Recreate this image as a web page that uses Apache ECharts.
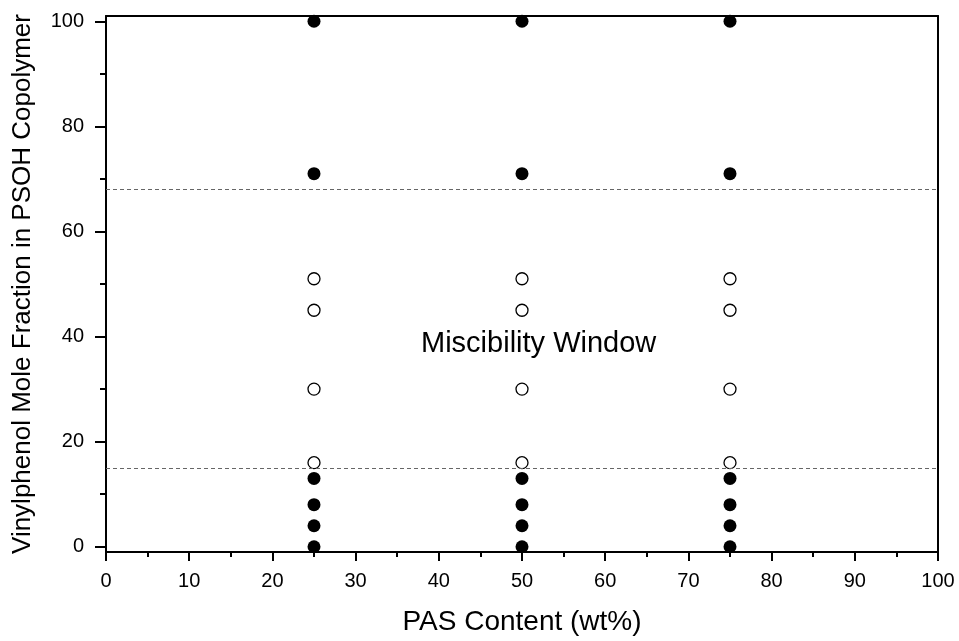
<!DOCTYPE html>
<html>
<head>
<meta charset="utf-8">
<script src="https://cdn.jsdelivr.net/npm/echarts@6/dist/echarts.min.js"></script>
<style>
  html, body { margin: 0; padding: 0; background: #fff; }
  #main { width: 959px; height: 641px; }
</style>
</head>
<body>
<div id="main"></div>
<script>
// PAS content (wt%) of each blend column
var pasContent = [25, 50, 75];
// vinylphenol mole fractions: immiscible (filled) and miscible (open)
var immiscibleVP = [0, 4, 8, 13, 71, 100];
var miscibleVP = [16, 30, 45, 51];
// window limits (dashed lines)
var windowLimits = [15, 68];
var yLabelValues = [0, 20, 40, 60, 80, 100];
var yMinorValues = [10, 30, 50, 70, 90];

function pairs(xs, ys) {
    var out = [];
    xs.forEach(function (x) {
        ys.forEach(function (y) { out.push([x, y]); });
    });
    return out;
}

var chart = echarts.init(document.getElementById('main'));
var font = 'Liberation Sans, Arial, sans-serif';
var black = { color: '#000', width: 2 };

var option = {
    animation: false,
    grid: { left: 106, right: 21, top: 16, bottom: 87 },
    xAxis: [{
        type: 'value', min: 0, max: 100, interval: 10,
        name: 'PAS Content (wt%)', nameLocation: 'middle', nameGap: 56,
        nameTextStyle: { fontFamily: font, fontSize: 28, color: '#000' },
        axisLine: { onZero: false, lineStyle: black },
        axisTick: { length: 9, lineStyle: black },
        minorTick: { show: true, splitNumber: 2, length: 5, lineStyle: black },
        axisLabel: { fontFamily: font, fontSize: 20, color: '#000', margin: 19 },
        splitLine: { show: false }
    }, {
        type: 'value', position: 'top', min: 0, max: 100,
        axisLine: { show: true, onZero: false, lineStyle: black },
        axisTick: { show: false }, axisLabel: { show: false }, splitLine: { show: false }
    }],
    yAxis: [{
        type: 'value', min: -1, max: 101,
        name: 'Vinylphenol Mole Fraction in PSOH Copolymer', nameLocation: 'middle', nameGap: 70,
        nameTextStyle: { fontFamily: font, fontSize: 26, color: '#000' },
        axisLine: { onZero: false, lineStyle: black },
        axisTick: { length: 11, customValues: yLabelValues, lineStyle: black },
        axisLabel: { fontFamily: font, fontSize: 20, color: '#000', margin: 22, customValues: yLabelValues },
        splitLine: { show: false }
    }, {
        type: 'value', position: 'left', min: -1, max: 101,
        axisLine: { show: false, onZero: false },
        axisTick: { show: true, length: 6, customValues: yMinorValues, lineStyle: black },
        axisLabel: { show: false, customValues: yMinorValues },
        splitLine: { show: false }
    }, {
        type: 'value', position: 'right', min: -1, max: 101,
        axisLine: { show: true, onZero: false, lineStyle: black },
        axisTick: { show: false }, axisLabel: { show: false }, splitLine: { show: false }
    }],
    series: [{
        type: 'scatter',
        data: pairs(pasContent, immiscibleVP),
        symbol: 'circle', symbolSize: 13,
        itemStyle: { color: '#000', opacity: 1 },
        markLine: {
            silent: true, symbol: 'none',
            label: { show: false },
            lineStyle: { color: '#666', type: [4, 3], width: 1, opacity: 1 },
            data: windowLimits.map(function (v) { return { yAxis: v }; })
        }
    }, {
        type: 'scatter',
        data: pairs(pasContent, miscibleVP),
        symbol: 'circle', symbolSize: 12,
        itemStyle: { color: '#fff', borderColor: '#000', borderWidth: 1.3, opacity: 1 }
    }, {
        type: 'scatter',
        data: [[52, 38.5]],
        symbolSize: 0,
        itemStyle: { opacity: 1 },
        label: {
            show: true, position: 'inside', formatter: 'Miscibility Window',
            fontFamily: font, fontSize: 29, color: '#000'
        }
    }]
};

chart.setOption(option);
</script>
</body>
</html>
